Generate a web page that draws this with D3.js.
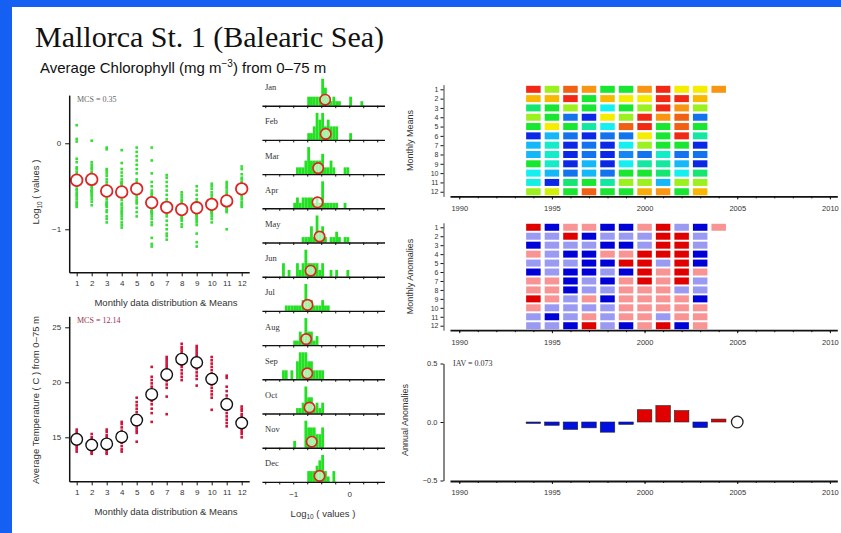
<!DOCTYPE html>
<html>
<head>
<meta charset="utf-8">
<style>
  body { margin: 0; background: #1560f2; }
  svg { display: block; }
  text { font-family: "Liberation Sans", Arial, sans-serif; fill: #333; }
  .serif { font-family: "Liberation Serif", "Times New Roman", serif; }
</style>
</head>
<body>
<svg id="chart" width="841" height="533"></svg>
<script src="https://cdn.jsdelivr.net/npm/d3@7"></script>
<script>
// ---- data ----
const months = [1, 2, 3, 4, 5, 6, 7, 8, 9, 10, 11, 12];
const monthNames = ["Jan", "Feb", "Mar", "Apr", "May", "Jun", "Jul", "Aug", "Sep", "Oct", "Nov", "Dec"];

// log10 chlorophyll, one list per month
const chlByMonth = [
  [0.21, 0.05, 0.02, -0.18, -0.22, -0.28, -0.3, -0.33, -0.36, -0.38, -0.4, -0.42, -0.43, -0.44, -0.45, -0.46, -0.47, -0.47, -0.48, -0.5, -0.53, -0.55, -0.58, -0.6, -0.62, -0.65, -0.68, -0.7, -0.72, -0.74],
  [0.03, -0.22, -0.25, -0.28, -0.3, -0.33, -0.35, -0.36, -0.37, -0.38, -0.4, -0.42, -0.45, -0.46, -0.48, -0.5, -0.52, -0.55, -0.55, -0.56, -0.56, -0.58, -0.6, -0.62, -0.65, -0.68, -0.72],
  [-0.05, -0.07, -0.3, -0.32, -0.35, -0.38, -0.42, -0.45, -0.48, -0.5, -0.52, -0.55, -0.58, -0.6, -0.62, -0.65, -0.68, -0.7, -0.71, -0.72, -0.72, -0.74, -0.78, -0.8, -0.85, -0.88, -0.92],
  [-0.08, -0.23, -0.3, -0.34, -0.38, -0.42, -0.45, -0.46, -0.46, -0.47, -0.48, -0.52, -0.56, -0.6, -0.62, -0.66, -0.7, -0.72, -0.75, -0.78, -0.8, -0.82, -0.85, -0.88, -0.92, -0.95, -0.98],
  [-0.05, -0.1, -0.15, -0.2, -0.25, -0.3, -0.35, -0.42, -0.45, -0.48, -0.5, -0.53, -0.55, -0.56, -0.56, -0.57, -0.58, -0.6, -0.63, -0.66, -0.68, -0.7, -0.75, -0.8, -0.85],
  [-0.05, -0.2, -0.35, -0.45, -0.5, -0.55, -0.58, -0.6, -0.62, -0.65, -0.68, -0.7, -0.72, -0.75, -0.78, -0.79, -0.8, -0.8, -0.82, -0.85, -0.88, -0.92, -0.95, -1.1, -1.17, -1.2],
  [-0.37, -0.4, -0.45, -0.5, -0.55, -0.6, -0.65, -0.68, -0.7, -0.72, -0.75, -0.76, -0.78, -0.78, -0.79, -0.8, -0.82, -0.85, -0.9, -0.95, -1.0, -1.05, -1.08, -1.12],
  [-0.57, -0.6, -0.63, -0.66, -0.68, -0.7, -0.72, -0.73, -0.75, -0.76, -0.77, -0.78, -0.79, -0.8, -0.8, -0.82, -0.84, -0.86, -0.88, -0.9, -0.94, -0.97],
  [-0.5, -0.55, -0.6, -0.65, -0.68, -0.7, -0.72, -0.75, -0.77, -0.78, -0.8, -0.82, -0.83, -0.84, -0.86, -0.88, -0.9, -0.92, -0.95, -1.05, -1.15, -1.2],
  [-0.47, -0.5, -0.53, -0.57, -0.6, -0.63, -0.66, -0.68, -0.7, -0.72, -0.73, -0.75, -0.76, -0.78, -0.79, -0.8, -0.8, -0.82, -0.85, -0.88, -0.92],
  [-0.45, -0.47, -0.5, -0.52, -0.55, -0.58, -0.6, -0.62, -0.64, -0.65, -0.66, -0.68, -0.7, -0.72, -0.74, -0.75, -0.76, -0.78, -0.79, -0.8, -1.0],
  [-0.27, -0.3, -0.36, -0.4, -0.42, -0.45, -0.46, -0.48, -0.5, -0.5, -0.51, -0.52, -0.53, -0.55, -0.56, -0.58, -0.6, -0.62, -0.65, -0.68, -0.7, -0.72, -0.74]
];
const chlMeans = [-0.43, -0.42, -0.555, -0.566, -0.53, -0.69, -0.745, -0.77, -0.75, -0.71, -0.67, -0.53];

// temperature (C), one list per month
const tempByMonth = [
  [15.7, 15.5, 15.3, 15.2, 15.0, 14.9, 14.8, 14.7, 14.6, 14.5, 14.4, 14.3, 14.1, 13.9, 13.7],
  [15.3, 15.0, 14.8, 14.6, 14.5, 14.4, 14.3, 14.2, 14.1, 14.0, 13.9, 13.8, 13.6, 13.5],
  [15.7, 15.5, 15.2, 15.0, 14.8, 14.6, 14.5, 14.4, 14.3, 14.2, 14.0, 13.9, 13.8, 13.6, 13.5],
  [16.4, 16.2, 15.9, 15.6, 15.4, 15.2, 15.1, 15.0, 14.9, 14.7, 14.5, 14.2, 13.9, 13.7],
  [18.6, 18.2, 17.9, 17.6, 17.3, 17.0, 16.8, 16.6, 16.4, 16.2, 16.0, 15.8, 15.6, 15.4, 14.6],
  [21.4, 20.5, 20.2, 19.9, 19.6, 19.3, 19.0, 18.8, 18.6, 18.3, 18.0, 17.6, 17.2, 16.4],
  [22.3, 22.1, 21.9, 21.7, 21.5, 21.3, 21.1, 20.9, 20.7, 20.5, 20.3, 20.1, 19.8, 19.5, 18.7, 17.1],
  [23.5, 23.2, 23.0, 22.8, 22.6, 22.4, 22.2, 22.0, 21.8, 21.6, 21.4, 21.1, 20.8, 20.5, 20.2],
  [23.3, 23.1, 22.9, 22.7, 22.5, 22.3, 22.1, 21.9, 21.7, 21.5, 21.2, 20.9, 20.6, 20.3, 19.7],
  [22.3, 22.0, 21.7, 21.4, 21.1, 20.8, 20.6, 20.4, 20.2, 20.0, 19.8, 19.5, 19.2, 18.9, 18.6, 17.5],
  [20.6, 20.4, 19.6, 19.2, 18.8, 18.5, 18.2, 18.0, 17.8, 17.5, 17.2, 16.9, 16.6, 16.3, 16.0],
  [17.8, 17.6, 17.4, 17.1, 16.9, 16.7, 16.5, 16.3, 16.1, 15.9, 15.7, 15.5, 15.3, 15.0]
];
const tempMeans = [14.82, 14.3, 14.4, 15.03, 16.57, 18.9, 20.7, 22.1, 21.8, 20.3, 18.0, 16.3];

const gridYears = [1994, 1995, 1996, 1997, 1998, 1999, 2000, 2001, 2002, 2003, 2004];
// monthly means (log10 chl), rows = months, columns = years
const monthlyMeans = [
  [-0.30, -0.62, -0.36, -0.43, -0.68, -0.68, -0.43, -0.30, -0.55, -0.55, -0.43],
  [-0.49, -0.49, -0.30, -0.68, -0.49, -0.55, -0.55, -0.30, -0.30, -0.49],
  [-0.72, -0.68, -0.62, -0.68, -0.81, -0.68, -0.62, -0.30, -0.43, -0.62],
  [-0.62, -0.68, -0.94, -1.00, -0.55, -0.62, -0.30, -0.43, -0.36, -0.94],
  [-0.68, -0.55, -0.68, -0.75, -0.81, -0.36, -0.30, -0.68, -0.36, -0.68],
  [-1.00, -0.87, -0.94, -1.00, -0.94, -0.94, -0.55, -0.68, -0.30, -0.75],
  [-0.87, -0.78, -1.00, -0.94, -1.00, -0.81, -0.62, -0.68, -0.68, -1.00],
  [-0.87, -0.78, -1.00, -0.94, -1.00, -0.92, -0.94, -0.78, -0.94, -0.94],
  [-0.68, -0.78, -1.00, -0.87, -1.00, -0.81, -0.75, -0.75, -0.87, -1.00],
  [-0.81, -0.87, -0.94, -0.87, -0.94, -0.68, -0.68, -0.72, -0.81, -0.72],
  [-0.80, -1.00, -0.72, -0.68, -0.75, -0.62, -0.62, -0.87, -0.62, -0.62],
  [-0.62, -0.58, -0.68, -0.36, -0.68, -0.68, -0.47, -0.43, -0.68, -0.49]
];
// monthly anomalies, rows = months, columns = years
const monthlyAnoms = [
  [0.24, -0.22, 0.08, 0.06, -0.2, -0.24, 0.07, 0.26, -0.07, -0.19, 0.09],
  [-0.06, -0.05, 0.22, -0.21, -0.08, -0.04, -0.06, 0.28, 0.3, -0.07],
  [-0.2, -0.09, -0.07, -0.06, -0.23, -0.18, -0.05, 0.27, 0.21, -0.08],
  [0.05, -0.07, -0.22, -0.26, 0.09, 0.06, 0.25, 0.23, 0.19, -0.21],
  [-0.04, -0.06, -0.08, -0.19, -0.24, 0.2, 0.26, -0.05, 0.22, -0.2],
  [-0.25, -0.08, -0.2, -0.23, -0.06, -0.17, 0.29, 0.1, 0.27, 0.07],
  [0.06, 0.05, -0.22, -0.09, -0.21, 0.08, 0.24, 0.06, 0.2, -0.05],
  [0.04, 0.07, -0.19, -0.06, -0.07, 0.05, 0.09, 0.08, -0.05, -0.04],
  [0.18, 0.06, -0.05, 0.07, -0.2, 0.05, 0.08, 0.06, 0.04, -0.22],
  [0.05, -0.06, -0.04, -0.05, -0.07, 0.06, 0.04, 0.07, 0.05, 0.06],
  [-0.07, -0.23, -0.05, 0.06, -0.04, 0.05, 0.08, -0.06, 0.07, 0.05],
  [-0.05, -0.08, -0.24, 0.21, -0.06, -0.2, 0.09, 0.23, -0.19, 0.07]
];
const annualYears = [1994, 1995, 1996, 1997, 1998, 1999, 2000, 2001, 2002, 2003, 2004];
const annualAnoms = [-0.012, -0.028, -0.063, -0.05, -0.087, -0.02, 0.105, 0.14, 0.097, -0.047, 0.025];
const markerYear = 2005, markerValue = 0;
const yearTicks = [1990, 1995, 2000, 2005, 2010];

// ---- drawing ----
const svg = d3.select("#chart");
svg.append("rect").attr("x", 12).attr("y", 7).attr("width", 829).attr("height", 526).attr("fill", "#fff");

svg.append("text").attr("class", "serif").attr("x", 35).attr("y", 47)
  .attr("font-size", 30).style("fill", "#111").text("Mallorca St. 1 (Balearic Sea)");
const sub = svg.append("text").attr("x", 40).attr("y", 72.5).attr("font-size", 15).style("fill", "#111");
sub.append("tspan").text("Average Chlorophyll (mg m");
sub.append("tspan").attr("dy", -6).attr("font-size", 10).text("\u22123");
sub.append("tspan").attr("dy", 6).text(") from 0\u201375 m");

function styleAxis(g, w, fs) {
  g.attr("font-family", "Liberation Sans, Arial, sans-serif").attr("font-size", fs);
  g.select(".domain").attr("stroke", "#111").attr("stroke-width", w);
  g.selectAll(".tick line").attr("stroke", "#111");
  g.selectAll(".tick text").style("fill", "#333");
}

// left: monthly distributions
const xMonth = d3.scaleLinear().domain([0.5, 12.5]).range([69.2, 249.2]);

function monthPanel(cfg) {
  const g = svg.append("g");
  cfg.data.forEach((vals, i) => {
    g.append("g").selectAll("rect").data(vals).enter().append("rect")
      .attr("x", xMonth(months[i]) - 1.3)
      .attr("y", d => cfg.y(d) - 1.3)
      .attr("width", 2.6).attr("height", 2.6)
      .attr("fill", cfg.dot);
  });
  g.append("g").selectAll("circle").data(cfg.means).enter().append("circle")
    .attr("cx", (d, i) => xMonth(months[i]))
    .attr("cy", d => cfg.y(d))
    .attr("r", 5.8).attr("fill", "#fff")
    .attr("stroke", cfg.ring).attr("stroke-width", cfg.ringWidth);

  const ax = g.append("g").attr("transform", `translate(0,${cfg.y.range()[0]})`)
    .call(d3.axisBottom(xMonth).tickValues(months).tickSize(4).tickPadding(4).tickSizeOuter(0));
  styleAxis(ax, 1.5, 8);
  const ay = g.append("g").attr("transform", `translate(${xMonth.range()[0]},0)`)
    .call(d3.axisLeft(cfg.y).tickValues(cfg.ticks).tickSize(4).tickPadding(4)
      .tickFormat(d3.format("d")).tickSizeOuter(0));
  styleAxis(ay, 1.5, 8);

  g.append("text").attr("class", "serif").attr("x", 77).attr("y", cfg.y.range()[1] + 7)
    .attr("font-size", 8).style("fill", cfg.mcsColor).text(cfg.mcs);
  g.append("text").attr("x", 166).attr("y", cfg.y.range()[0] + 33.5)
    .attr("text-anchor", "middle").attr("font-size", 9.5).text("Monthly data distribution & Means");
  return g;
}

const yChl = d3.scaleLinear().domain([-1.5, 0.56]).range([272.3, 95.1]);
monthPanel({ data: chlByMonth, means: chlMeans, y: yChl, ticks: [-1, 0], dot: "#33e033",
  ring: "#e02424", ringWidth: 1.8, mcs: "MCS = 0.35", mcsColor: "#666" });
const yl1 = svg.append("text").attr("transform", "translate(39,192) rotate(-90)")
  .attr("text-anchor", "middle").attr("font-size", 9.5);
yl1.append("tspan").text("Log");
yl1.append("tspan").attr("dy", 2.5).attr("font-size", 6.5).text("10");
yl1.append("tspan").attr("dy", -2.5).text(" ( values )");

const yTemp = d3.scaleLinear().domain([11, 26]).range([481.3, 316.3]);
monthPanel({ data: tempByMonth, means: tempMeans, y: yTemp, ticks: [15, 20, 25], dot: "#d0143a",
  ring: "#111", ringWidth: 1.4, mcs: "MCS = 12.14", mcsColor: "#9b2d4e" });
svg.append("text").attr("transform", "translate(38.5,400) rotate(-90)")
  .attr("text-anchor", "middle").attr("font-size", 9.5)
  .text("Average Temperature ( C ) from 0\u201375 m");

// middle: monthly histograms
const xLog = d3.scaleLinear().domain([-1.56, 0.63]).range([261.9, 384.5]);
const panelBase = d3.scaleLinear().domain([0, 11]).range([105.7, 481.9]);
const binner = d3.bin().domain([-1.6, 0.6]).thresholds(d3.range(-1.6, 0.6, 0.05));
const minorLog = [-1.5, -1.25, -1, -0.75, -0.5, -0.25, 0, 0.25, 0.5];

monthNames.forEach((name, i) => {
  const y0 = panelBase(i);
  const g = svg.append("g");
  const bins = binner(chlByMonth[i]);
  const h = d3.scaleLinear().domain([0, d3.max(bins, b => b.length)]).range([0, 27]);
  g.selectAll("rect").data(bins.filter(b => b.length > 0)).enter().append("rect")
    .attr("x", b => xLog(b.x0))
    .attr("width", b => xLog(b.x1) - xLog(b.x0))
    .attr("y", b => y0 - h(b.length))
    .attr("height", b => h(b.length))
    .attr("fill", "#22e022");
  g.append("circle").attr("cx", xLog(chlMeans[i])).attr("cy", y0 - 6).attr("r", 5.2)
    .attr("fill", "#fff").attr("fill-opacity", 0.6)
    .attr("stroke", "#e02424").attr("stroke-width", 1.7);
  const ax = g.append("g").attr("transform", `translate(0,${y0})`)
    .call(d3.axisBottom(xLog).tickValues(minorLog).tickSize(2.5).tickFormat("").tickSizeOuter(0));
  styleAxis(ax, 1.4, 8);
  g.append("text").attr("class", "serif").attr("x", 265).attr("y", y0 - 15.5)
    .attr("font-size", 8.5).text(name);
  if (i === 11) {
    const lab = g.append("g").attr("transform", `translate(0,${y0})`)
      .call(d3.axisBottom(xLog).tickValues([-1, 0]).tickSize(0).tickPadding(9).tickFormat(d3.format("d")));
    lab.select(".domain").remove();
    styleAxis(lab, 1, 8);
  }
});
const xl = svg.append("text").attr("x", 323).attr("y", 516.5).attr("text-anchor", "middle").attr("font-size", 9.5);
xl.append("tspan").text("Log");
xl.append("tspan").attr("dy", 2.5).attr("font-size", 6.5).text("10");
xl.append("tspan").attr("dy", -2.5).text(" ( values )");

// right: year panels
const xYear = d3.scaleLinear().domain([1989.5, 2010.4]).range([450, 837.3]);
const cellW = 14.5, cellH = 7;
const allYears = d3.range(1990, 2011);

function yearAxis(yPos) {
  const minor = svg.append("g").attr("transform", `translate(0,${yPos})`)
    .call(d3.axisBottom(xYear).tickValues(allYears).tickSize(2).tickFormat("").tickSizeOuter(0));
  styleAxis(minor, 1.8, 7.5);
  const major = svg.append("g").attr("transform", `translate(0,${yPos})`)
    .call(d3.axisBottom(xYear).tickValues(yearTicks).tickSize(3).tickPadding(6).tickFormat(d3.format("d")));
  major.select(".domain").remove();
  styleAxis(major, 1, 7.5);
}

const jetStops = ["#0a28e6", "#1478f0", "#14b4f8", "#14f0f0", "#14e69b", "#14e632",
  "#a0f01e", "#f5f000", "#f8b800", "#f89414", "#f06414", "#f02814"];
const jet = d3.scaleLinear()
  .domain(jetStops.map((c, k) => -1.0 + k * 0.7 / (jetStops.length - 1)))
  .range(jetStops).clamp(true);
const anomColor = d3.scaleThreshold().domain([-0.15, 0, 0.15])
  .range(["#0000d8", "#9a9af2", "#f89494", "#e00000"]);

function gridPanel(grid, rowScale, color, label) {
  const g = svg.append("g");
  grid.forEach((row, i) => {
    g.append("g").selectAll("rect").data(row).enter().append("rect")
      .attr("x", (d, j) => xYear(gridYears[j]) - cellW / 2)
      .attr("y", rowScale(months[i]) - cellH / 2)
      .attr("width", cellW).attr("height", cellH)
      .attr("fill", d => color(d));
  });
  const ay = g.append("g").attr("transform", `translate(443.5,0)`)
    .call(d3.axisLeft(rowScale).tickValues(months).tickSize(3).tickPadding(2).tickSizeOuter(0));
  styleAxis(ay, 0.8, 7);
  yearAxis(rowScale.range()[1]);
  const mid = (rowScale.range()[0] + rowScale.range()[1]) / 2;
  svg.append("text").attr("transform", `translate(413,${mid}) rotate(-90)`)
    .attr("text-anchor", "middle").attr("font-size", 9).text(label);
}

const rowMeans = d3.scaleLinear().domain([0.5, 12.5]).range([84.65, 196.4]);
gridPanel(monthlyMeans, rowMeans, jet, "Monthly Means");
const rowAnoms = d3.scaleLinear().domain([0.5, 12.5]).range([222.8, 330.2]);
gridPanel(monthlyAnoms, rowAnoms, anomColor, "Monthly Anomalies");

// annual anomalies
const yBar = d3.scaleLinear().domain([-0.5, 0.5]).range([480.5, 363.5]);
const gb = svg.append("g");
gb.selectAll("rect").data(annualAnoms).enter().append("rect")
  .attr("x", (d, i) => xYear(annualYears[i]) - cellW / 2)
  .attr("y", d => yBar(Math.max(0, d)))
  .attr("width", cellW)
  .attr("height", d => Math.abs(yBar(d) - yBar(0)))
  .attr("fill", d => d > 0 ? "#e00000" : "#0010e0")
  .attr("stroke", "#222").attr("stroke-width", 0.6);
gb.append("circle").attr("cx", xYear(markerYear)).attr("cy", yBar(markerValue)).attr("r", 5.8)
  .attr("fill", "#fff").attr("stroke", "#222").attr("stroke-width", 1.3);
const ayb = gb.append("g").attr("transform", "translate(443.5,0)")
  .call(d3.axisLeft(yBar).tickValues([-0.5, 0, 0.5]).tickSize(3).tickPadding(3)
    .tickFormat(d3.format(".1f")).tickSizeOuter(0));
styleAxis(ayb, 1, 7.5);
yearAxis(481);
svg.append("text").attr("class", "serif").attr("x", 453).attr("y", 366)
  .attr("font-size", 8).text("IAV = 0.073");
svg.append("text").attr("transform", "translate(408,420) rotate(-90)")
  .attr("text-anchor", "middle").attr("font-size", 9).text("Annual Anomalies");
</script>
</body>
</html>
